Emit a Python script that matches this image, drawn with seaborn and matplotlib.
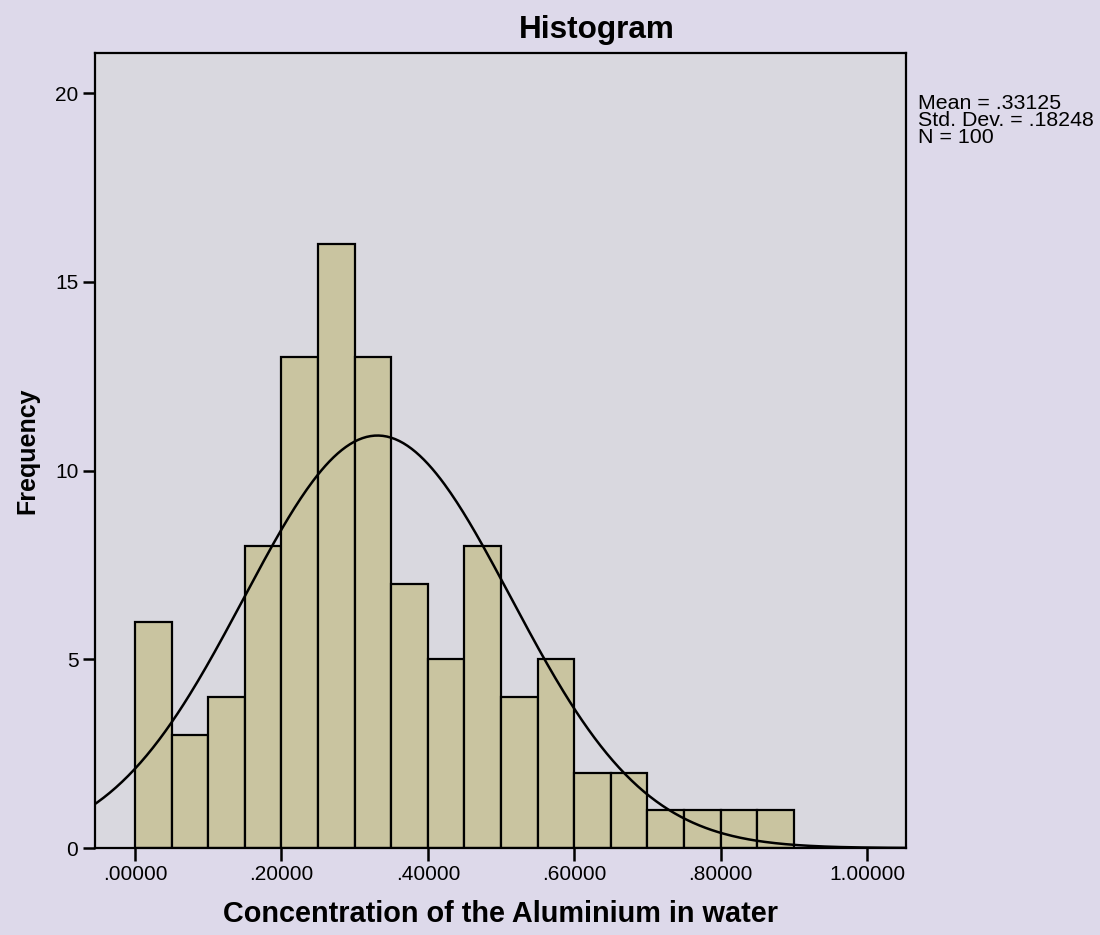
import matplotlib
matplotlib.use("Agg")
import matplotlib.pyplot as plt
import numpy as np
import seaborn as sns

# Data (bin width 0.05)
bin_edges = [0.00, 0.05, 0.10, 0.15, 0.20, 0.25, 0.30, 0.35, 0.40, 0.45,
             0.50, 0.55, 0.60, 0.65, 0.70, 0.75, 0.80, 0.85, 0.90]
counts = [6, 3, 4, 8, 13, 16, 13, 7, 5, 8, 4, 5, 2, 2, 1, 1, 1, 1]
mean_val = 0.33125
std_val = 0.18248
n_obs = 100
x_ticks = [0.0, 0.2, 0.4, 0.6, 0.8, 1.0]
x_tick_labels = [".00000", ".20000", ".40000", ".60000", ".80000", "1.00000"]
y_ticks = [0, 5, 10, 15, 20]

sns.set_style("white")
plt.rcParams["font.family"] = ["Liberation Sans", "DejaVu Sans"]
plt.rcParams["text.color"] = "black"
plt.rcParams["axes.labelcolor"] = "black"

fig = plt.figure(figsize=(11, 9.35), dpi=100, facecolor="#ddd9ea")
ax = fig.add_axes([0.0864, 0.093, 0.737, 0.850])
ax.set_facecolor("#d9d8df")

centers = [(bin_edges[i] + bin_edges[i + 1]) / 2 for i in range(len(counts))]
sns.histplot(x=centers, weights=counts, bins=bin_edges, ax=ax,
             color="#c9c4a0", alpha=1, edgecolor="black", linewidth=1.6)

# Normal curve from the stated mean / SD, scaled to counts
xs = np.linspace(-0.06, 1.06, 400)
ys = n_obs * 0.05 / (std_val * np.sqrt(2 * np.pi)) * np.exp(-0.5 * ((xs - mean_val) / std_val) ** 2)
sns.lineplot(x=xs, y=ys, ax=ax, color="black", linewidth=1.8)

ax.set_xlim(-0.0547, 1.053)
ax.set_ylim(0, 21.06)
ax.set_xticks(x_ticks)
ax.set_xticklabels(x_tick_labels)
ax.set_yticks(y_ticks)
ax.tick_params(direction="out", length=9, width=1.8, labelsize=15, pad=3,
               bottom=True, left=True, colors="black")
for s in ax.spines.values():
    s.set_visible(True)
    s.set_color("black")
    s.set_linewidth(1.6)

ax.set_xlabel("Concentration of the Aluminium in water", fontsize=20.8,
              fontweight="bold", labelpad=12)
ax.set_ylabel("Frequency", fontsize=18, fontweight="bold", labelpad=11)

fig.text(597 / 1100, 1 - 30 / 935, "Histogram", ha="center", va="center",
         fontsize=22.7, fontweight="bold")
fig.text(918 / 1100, 1 - 94 / 935,
         "Mean = .33125\nStd. Dev. = .18248\nN = 100",
         ha="left", va="top", fontsize=15.4, linespacing=0.88)

fig.savefig("out.png", dpi=100, facecolor=fig.get_facecolor())
